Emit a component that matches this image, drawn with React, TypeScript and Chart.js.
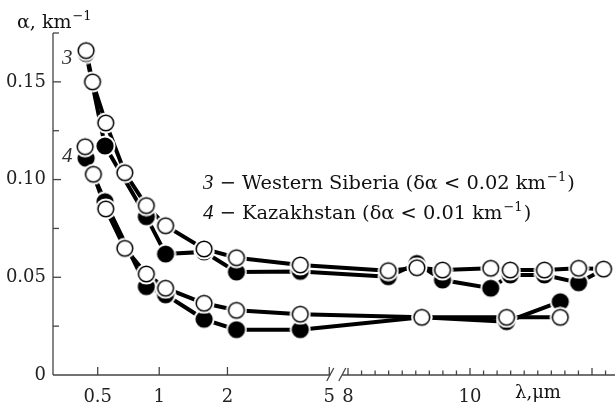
import { useEffect, useRef } from "react";
import { Chart, registerables } from "chart.js";

Chart.register(...registerables);

// ---- data (wavelength in µm, attenuation in km^-1) ----
const S3_OPEN_LAMBDA = [0.435, 0.47, 0.55, 0.685, 0.87, 1.07, 1.59, 2.18, 3.9, 8.66, 9.13, 9.55, 10.34, 10.66, 11.22, 11.78, 12.19];
const S3_OPEN_ALPHA = [0.166, 0.150, 0.129, 0.1035, 0.0867, 0.0764, 0.0645, 0.0600, 0.0563, 0.0534, 0.0549, 0.0537, 0.0546, 0.0537, 0.0537, 0.0546, 0.0542];

const S3_FILLED_LAMBDA = [0.435, 0.545, 0.87, 1.07, 1.59, 2.18, 3.9, 8.66, 9.13, 9.55, 10.34, 10.66, 11.22, 11.78, 12.19];
const S3_FILLED_ALPHA = [0.1645, 0.1172, 0.081, 0.0619, 0.063, 0.0527, 0.053, 0.0503, 0.0571, 0.0486, 0.0444, 0.0512, 0.0512, 0.0472, 0.054];

const S4_OPEN_LAMBDA = [0.43, 0.475, 0.55, 0.685, 0.87, 1.07, 1.59, 2.18, 3.9, 9.21, 10.6, 11.48];
const S4_OPEN_ALPHA = [0.1168, 0.1027, 0.085, 0.0648, 0.0517, 0.0444, 0.0367, 0.0331, 0.0311, 0.0295, 0.0295, 0.0295];

const S4_FILLED_LAMBDA = [0.435, 0.545, 0.87, 1.07, 1.59, 2.18, 3.9, 9.21, 10.6, 11.48];
const S4_FILLED_ALPHA = [0.1109, 0.0887, 0.0452, 0.041, 0.0285, 0.0232, 0.0232, 0.0295, 0.0273, 0.0375];

const X_TICK_VALUES = [0.5, 1, 2, 5, 8, 10];
const X_TICK_LABELS = ["0.5", "1", "2", "5", "8", "10"];
const X_MAJOR_RIGHT = [8, 10, 12];
const Y_TICK_VALUES = [0, 0.05, 0.1, 0.15];
const Y_TICK_LABELS = ["0", "0.05", "0.10", "0.15"];
const Y_MINOR = [0.025, 0.075, 0.125, 0.175];

const LEGEND_3 = " \u2212 Western Siberia (\u03b4\u03b1 < 0.02 km";
const LEGEND_4 = " \u2212 Kazakhstan (\u03b4\u03b1 < 0.01 km";

// ---- broken x axis: compressed power scale below the break, linear above ----
const P = 0.15;
const K = 10.21;
const GAP = 0.307;
function toAxis(l: number): number {
  return l >= 8 ? l : 8 - GAP - K * (Math.pow(5, P) - Math.pow(l, P));
}
const AX_MIN = 3.164;
const AX_MAX = 12.377;

const SERIF = "'DejaVu Serif', serif";

export default function App() {
  const ref = useRef<HTMLCanvasElement>(null);

  useEffect(() => {
    const canvas = ref.current!;
    const marker = (open: boolean) => {
      const c = document.createElement("canvas");
      c.width = 22;
      c.height = 22;
      const g = c.getContext("2d")!;
      g.fillStyle = "#fff";
      g.beginPath();
      g.arc(11, 11, 10.5, 0, Math.PI * 2);
      g.fill();
      g.fillStyle = "#000";
      g.beginPath();
      g.arc(11, 11, 8.6, 0, Math.PI * 2);
      g.fill();
      if (open) {
        g.fillStyle = "#fff";
        g.beginPath();
        g.arc(11, 11, 7.1, 0, Math.PI * 2);
        g.fill();
      }
      return c;
    };
    const openImg = marker(true);
    const filledImg = marker(false);

    const series = [
      { lam: S3_FILLED_LAMBDA, val: S3_FILLED_ALPHA, open: false },
      { lam: S4_FILLED_LAMBDA, val: S4_FILLED_ALPHA, open: false },
      { lam: S3_OPEN_LAMBDA, val: S3_OPEN_ALPHA, open: true },
      { lam: S4_OPEN_LAMBDA, val: S4_OPEN_ALPHA, open: true },
    ];
    const toPts = (lam: number[], val: number[]) => lam.map((l, i) => ({ x: toAxis(l), y: val[i] }));

    const datasets: any[] = [];
    series.forEach((s) => {
      datasets.push({
        data: toPts(s.lam, s.val),
        borderColor: "#000",
        borderWidth: 4,
        pointRadius: 0,
        fill: false,
        tension: 0,
        order: 10,
      });
    });
    series.forEach((s) => {
      datasets.push({
        data: toPts(s.lam, s.val),
        showLine: false,
        pointStyle: s.open ? openImg : filledImg,
        pointRadius: 8,
        order: s.open ? 1 : 5,
      });
    });

    const axesPlugin = {
      id: "axesPlugin",
      beforeDatasetsDraw(chart: any) {
        const { ctx, chartArea } = chart;
        const xs = chart.scales.x;
        const ys = chart.scales.y;
        const L = chartArea.left;
        const B = chartArea.bottom;
        ctx.save();
        ctx.strokeStyle = "#444";
        ctx.lineWidth = 1.3;
        // y axis
        ctx.beginPath();
        ctx.moveTo(L, chartArea.top);
        ctx.lineTo(L, B);
        ctx.stroke();
        Y_TICK_VALUES.slice(1).forEach((v) => {
          const y = ys.getPixelForValue(v);
          ctx.beginPath();
          ctx.moveTo(L, y);
          ctx.lineTo(L + 8, y);
          ctx.stroke();
        });
        Y_MINOR.forEach((v) => {
          const y = ys.getPixelForValue(v);
          ctx.beginPath();
          ctx.moveTo(L, y);
          ctx.lineTo(L + 6, y);
          ctx.stroke();
        });
        // x axis with break
        const b5 = xs.getPixelForValue(toAxis(5));
        const s1 = b5 + 1;
        const s2 = b5 + 13;
        ctx.beginPath();
        ctx.moveTo(L, B);
        ctx.lineTo(s1, B);
        ctx.moveTo(s2, B);
        ctx.lineTo(chartArea.right, B);
        ctx.stroke();
        [s1, s2].forEach((sx) => {
          ctx.beginPath();
          ctx.moveTo(sx - 3.5, B + 6);
          ctx.lineTo(sx + 3.5, B - 7);
          ctx.stroke();
        });
        [0.5, 1, 2, 5].forEach((l) => {
          const x = xs.getPixelForValue(toAxis(l));
          ctx.beginPath();
          ctx.moveTo(x, B);
          ctx.lineTo(x, B - 8);
          ctx.stroke();
        });
        for (let k = 0; k < 20; k++) {
          const l = 8 + (k * 2) / 9;
          if (l > AX_MAX) break;
          const x = xs.getPixelForValue(toAxis(l));
          const major = X_MAJOR_RIGHT.some((m) => Math.abs(m - l) < 1e-6);
          ctx.beginPath();
          ctx.moveTo(x, B);
          ctx.lineTo(x, B - (major ? 7 : 4.5));
          ctx.stroke();
        }
        ctx.restore();
      },
      afterDraw(chart: any) {
        const { ctx } = chart;
        ctx.save();
        ctx.fillStyle = "#111";
        ctx.textBaseline = "alphabetic";
        ctx.textAlign = "left";
        const withSup = (x: number, y: number, pre: string, size: number, post: string) => {
          ctx.font = `${size}px ${SERIF}`;
          ctx.fillText(pre, x, y);
          let cx = x + ctx.measureText(pre).width + 1;
          ctx.font = `${Math.round(size * 0.68)}px ${SERIF}`;
          ctx.fillText("\u22121", cx, y - size * 0.42);
          cx += ctx.measureText("\u22121").width + 1;
          ctx.font = `${size}px ${SERIF}`;
          ctx.fillText(post, cx, y);
        };
        // y axis title
        withSup(17, 28, "\u03b1, km", 19, "");
        // x axis title
        ctx.font = `18px ${SERIF}`;
        ctx.fillText("\u03bb,\u03bcm", 515, 398);
        // curve numbers
        ctx.font = `italic 21px 'Liberation Serif', serif`;
        ctx.fillStyle = "#333";
        ctx.fillText("3", 62, 64);
        ctx.fillText("4", 62, 162);
        // legend
        ctx.fillStyle = "#111";
        const legend = (y: number, num: string, txt: string) => {
          ctx.font = `italic 21px 'Liberation Serif', serif`;
          ctx.fillText(num, 203, y);
          const w = ctx.measureText(num).width;
          withSup(203 + w, y, txt, 19.4, ")");
        };
        legend(189, "3", LEGEND_3);
        legend(219, "4", LEGEND_4);
        ctx.restore();
      },
    };

    const chart = new Chart(canvas, {
      type: "line",
      data: { datasets },
      options: {
        animation: false,
        responsive: false,
        devicePixelRatio: 1,
        layout: { autoPadding: false, padding: { top: 33, left: 0, right: 0, bottom: 0 } },
        plugins: { legend: { display: false }, tooltip: { enabled: false } },
        scales: {
          x: {
            type: "linear",
            min: AX_MIN,
            max: AX_MAX,
            grid: { display: false, drawTicks: false },
            border: { display: false },
            ticks: {
              font: { family: SERIF, size: 18 },
              color: "#222",
              padding: 12,
              maxRotation: 0,
              autoSkip: false,
              callback: (_v: any, i: number) => X_TICK_LABELS[i],
            },
            afterBuildTicks: (s: any) => {
              s.ticks = X_TICK_VALUES.map((l) => ({ value: toAxis(l) }));
            },
            afterFit: (s: any) => {
              s.height = 32;
              s.paddingLeft = 0;
              s.paddingRight = 0;
            },
          },
          y: {
            type: "linear",
            min: 0,
            max: 0.175,
            grid: { display: false, drawTicks: false },
            border: { display: false },
            ticks: {
              font: { family: SERIF, size: 18 },
              color: "#222",
              padding: 7,
              autoSkip: false,
              callback: (_v: any, i: number) => Y_TICK_LABELS[i],
            },
            afterBuildTicks: (s: any) => {
              s.ticks = Y_TICK_VALUES.map((v) => ({ value: v }));
            },
            afterFit: (s: any) => {
              s.width = 53;
              s.paddingTop = 0;
              s.paddingBottom = 0;
            },
          },
        },
      },
      plugins: [axesPlugin],
    });
    return () => chart.destroy();
  }, []);

  return (
    <div style={{ position: "absolute", left: 0, top: 0, width: 615, height: 407, background: "#fff" }}>
      <canvas ref={ref} width={615} height={407} style={{ display: "block" }} />
    </div>
  );
}
